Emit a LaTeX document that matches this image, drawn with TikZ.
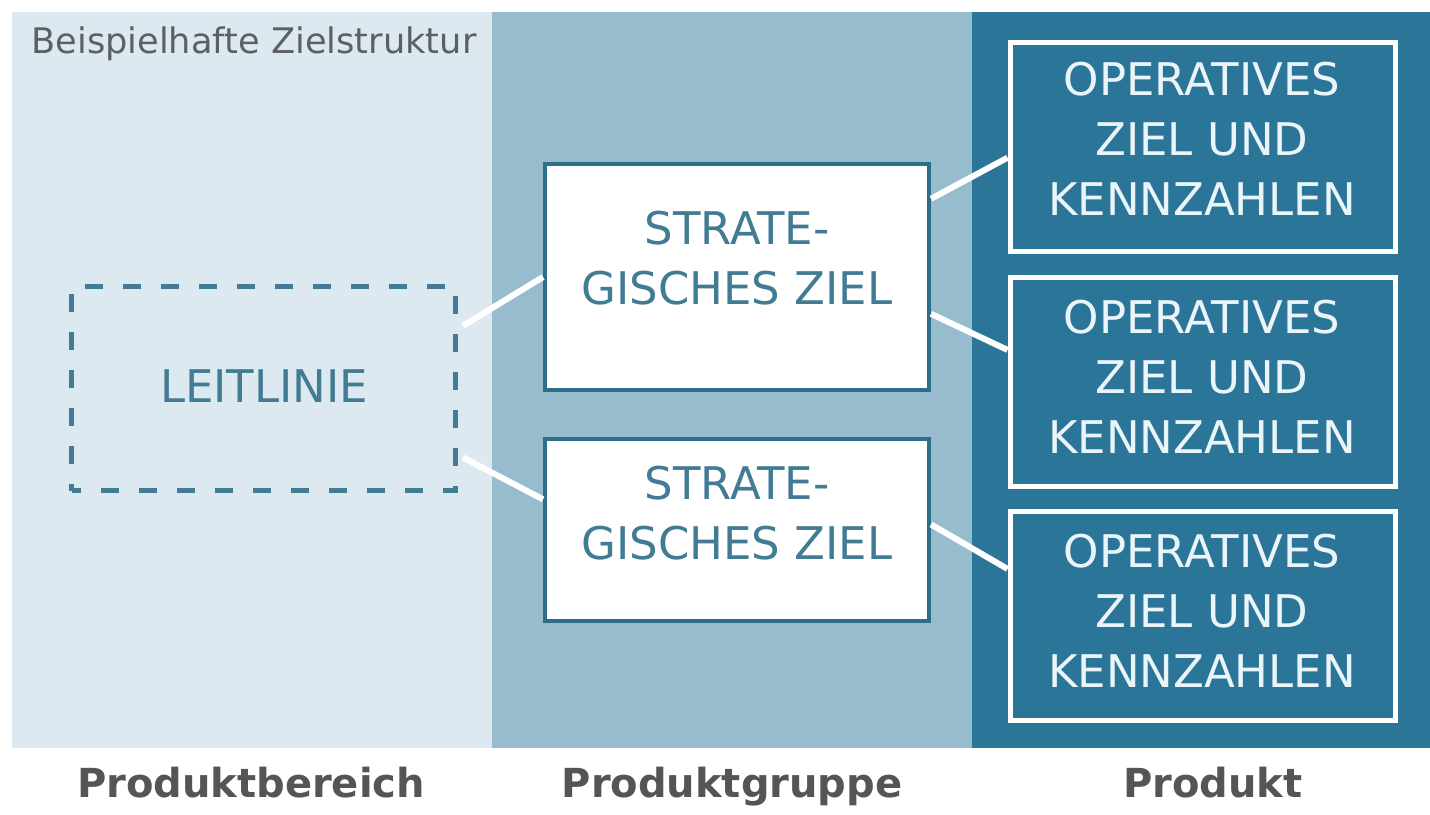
\documentclass[tikz,border=0pt]{standalone}
\usepackage{fontspec}
\setmainfont{DejaVu Sans}
\usetikzlibrary{calc}

\definecolor{bereichfill}{RGB}{221,233,241}
\definecolor{gruppefill}{RGB}{151,188,205}
\definecolor{produktfill}{RGB}{43,117,152}
\definecolor{zielrand}{RGB}{45,110,138}
\definecolor{zielschrift}{RGB}{66,124,148}
\definecolor{titelgrau}{RGB}{92,96,102}
\definecolor{ebenengrau}{RGB}{85,85,85}
\definecolor{opschrift}{RGB}{234,245,249}

\tikzset{every picture/.style={line width=0.75pt}}
\tikzset{
  stratbox/.style={draw=zielrand, line width=3pt, fill=white, minimum width=288pt, inner sep=0pt},
  opbox/.style={draw=white, line width=3.75pt, fill=produktfill, minimum width=288.75pt, minimum height=156.75pt, inner sep=0pt},
  leitbox/.style={draw=zielschrift, line width=3.75pt, dash pattern=on 13.5pt off 15pt, dash phase=6.75pt, minimum width=288pt, minimum height=153pt, inner sep=0pt},
  boxlabel/.style={font=\fontsize{33.75pt}{45pt}\selectfont, align=center, inner sep=0pt},
  ebene/.style={font=\fontsize{30pt}{36pt}\selectfont\bfseries, text=ebenengrau, inner sep=0pt, anchor=base},
  verbinder/.style={draw=white, line width=4.5pt}
}

\begin{document}
\begin{tikzpicture}[x=0.75pt,y=0.75pt,yscale=-1,xscale=1]
	\useasboundingbox (0,0) rectangle (1430,814);

	%Shape: Rectangle [Produktbereich]
	\fill [bereichfill] (12,12) rectangle (492,748);
	%Shape: Rectangle [Produktgruppe]
	\fill [gruppefill] (492,12) rectangle (972,748);
	%Shape: Rectangle [Produkt]
	\fill [produktfill] (972,12) rectangle (1430,748);

	% Text Node
	\node [font=\fontsize{26.4pt}{32pt}\selectfont, text=titelgrau, inner sep=0pt, anchor=base west] (titel) at (31,53) {Beispielhafte Zielstruktur};

	%Shape: Dashed Box
	\node [leitbox] (leit) at (263.5,388.5) {};
	\node [boxlabel, text=zielschrift] (leittext) at (264,386) {LEITLINIE};

	%Shape: Strategic Goals
	\node [stratbox, minimum height=169.5pt] (strat1) at (737,277) {};
	\node [boxlabel, text=zielschrift] (strat1text) at (737,258) {STRATE-\\GISCHES ZIEL};
	\node [stratbox, minimum height=136.5pt] (strat2) at (737,530) {};
	\node [boxlabel, text=zielschrift] (strat2text) at (737,513.5) {STRATE-\\GISCHES ZIEL};

	%Shape: Operative Goals
	\node [opbox] (op1) at (1202.5,147) {};
	\node [boxlabel, text=opschrift] (op1text) at (1202,138.5) {OPERATIVES\\ZIEL UND\\KENNZAHLEN};
	\node [opbox] (op2) at (1202.5,382) {};
	\node [boxlabel, text=opschrift] (op2text) at (1202,377) {OPERATIVES\\ZIEL UND\\KENNZAHLEN};
	\node [opbox] (op3) at (1202.5,616) {};
	\node [boxlabel, text=opschrift] (op3text) at (1202,611) {OPERATIVES\\ZIEL UND\\KENNZAHLEN};

	%Straight Lines
	\draw [verbinder] ($(leit.north east)!0.2!(leit.south east)+(5,0)$) -- (strat1.west);
	\draw [verbinder] ($(leit.north east)!0.83!(leit.south east)+(5,0)$) -- ($(strat2.north west)!0.335!(strat2.south west)$);
	\draw [verbinder] ($(strat1.north east)!0.16!(strat1.south east)$) -- ($(op1.north west)!0.55!(op1.south west)$);
	\draw [verbinder] ($(strat1.north east)!0.66!(strat1.south east)$) -- ($(op2.north west)!0.35!(op2.south west)$);
	\draw [verbinder] ($(strat2.north east)!0.47!(strat2.south east)$) -- ($(op3.north west)!0.28!(op3.south west)$);

	% Text Node
	\node [ebene] (bereich) at (251,797) {Produktbereich};
	% Text Node
	\node [ebene] (gruppe) at (732,797) {Produktgruppe};
	% Text Node
	\node [ebene] (produkt) at (1213,797) {Produkt};

\end{tikzpicture}
\end{document}
